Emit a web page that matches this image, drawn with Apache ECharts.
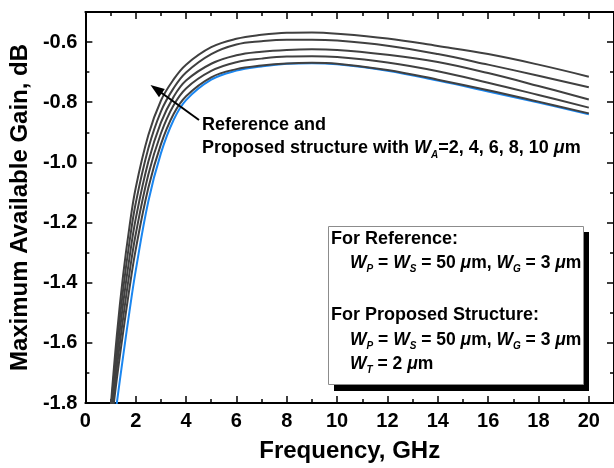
<!DOCTYPE html>
<html>
<head>
<meta charset="utf-8">
<script src="https://cdn.jsdelivr.net/npm/echarts@6/dist/echarts.min.js"></script>
<style>
  html, body { margin: 0; padding: 0; background: #fff; }
  #chart { width: 614px; height: 468px; }
</style>
</head>
<body>
<div id="chart"></div>
<script>
// frequency points (GHz)
const freq = [1.0, 1.25, 1.5, 1.75, 2, 2.5, 3, 3.5, 4, 5, 6, 7, 8, 9, 10, 12, 14, 16, 18, 20];
// reference structure (blue)
const refGain = [-1.96, -1.80, -1.645, -1.497, -1.36, -1.13, -0.97, -0.86, -0.793, -0.725, -0.695, -0.681, -0.672, -0.670, -0.674, -0.695, -0.728, -0.764, -0.801, -0.840];
// proposed structure, W_A = 2 .. 10 um
const propWa2 = [-1.89, -1.72, -1.565, -1.42, -1.29, -1.085, -0.94, -0.84, -0.78, -0.717, -0.690, -0.678, -0.671, -0.669, -0.672, -0.693, -0.725, -0.760, -0.798, -0.837];
const propWa4 = [-1.873, -1.684, -1.518, -1.369, -1.239, -1.041, -0.904, -0.811, -0.754, -0.696, -0.667, -0.655, -0.648, -0.647, -0.650, -0.668, -0.697, -0.735, -0.776, -0.818];
const propWa6 = [-1.855, -1.648, -1.47, -1.318, -1.188, -0.998, -0.868, -0.783, -0.728, -0.672, -0.644, -0.632, -0.626, -0.624, -0.626, -0.642, -0.666, -0.703, -0.746, -0.791];
const propWa8 = [-1.838, -1.611, -1.423, -1.266, -1.136, -0.954, -0.831, -0.754, -0.701, -0.640, -0.608, -0.597, -0.592, -0.592, -0.595, -0.612, -0.640, -0.675, -0.712, -0.750];
const propWa10 = [-1.82, -1.575, -1.375, -1.215, -1.085, -0.91, -0.795, -0.725, -0.675, -0.617, -0.589, -0.576, -0.569, -0.568, -0.572, -0.588, -0.613, -0.640, -0.675, -0.715];

const FONT = '"Liberation Sans", Arial, sans-serif';
const myChart = echarts.init(document.getElementById('chart'));

const toPairs = (arr) => freq.map((f, i) => [f, arr[i]]);

function lineSeries(name, arr, color) {
  return {
    name: name,
    type: 'line',
    data: toPairs(arr),
    smooth: 0.4,
    showSymbol: false,
    symbol: 'none',
    clip: true,
    lineStyle: { color: color, width: 2 },
    xAxisIndex: 0,
    yAxisIndex: 0
  };
}

function xAx(pos, interval, major) {
  return {
    type: 'value', position: pos, min: 0, max: 21, interval: interval,
    axisLine: { show: major, onZero: false, lineStyle: { color: '#000', width: 2 } },
    axisTick: { show: true, inside: true, length: major ? 7 : 4, lineStyle: { color: '#000', width: 1.5 } },
    axisLabel: { show: false },
    splitLine: { show: false }
  };
}
function yAx(pos, interval, major) {
  return {
    type: 'value', position: pos, min: -1.8, max: -0.5, interval: interval,
    axisLine: { show: major, onZero: false, lineStyle: { color: '#000', width: 2 } },
    axisTick: { show: true, inside: true, length: major ? 7 : 4, lineStyle: { color: '#000', width: 1.5 } },
    axisLabel: { show: false },
    splitLine: { show: false }
  };
}

const xMain = xAx('bottom', 2, true);
xMain.axisLabel = {
  show: true, showMaxLabel: false, margin: 8,
  color: '#000', fontSize: 20, fontWeight: 'bold', fontFamily: FONT
};
xMain.name = 'Frequency, GHz';
xMain.nameLocation = 'middle';
xMain.nameGap = 36;
xMain.nameTextStyle = { color: '#000', fontSize: 24, fontWeight: 'bold', fontFamily: FONT };

const yMain = yAx('left', 0.2, true);
yMain.axisLabel = {
  show: true, showMaxLabel: false, margin: 8,
  color: '#000', fontSize: 20, fontWeight: 'bold', fontFamily: FONT,
  formatter: (v) => v.toFixed(1)
};
yMain.name = 'Maximum Available Gain, dB';
yMain.nameLocation = 'middle';
yMain.nameGap = 49;
yMain.nameRotate = 90;
yMain.nameTextStyle = { color: '#000', fontSize: 24, fontWeight: 'bold', fontFamily: FONT };

const tok = (extra) => Object.assign({ fontFamily: FONT, fontWeight: 'bold', fontSize: 18, fontStyle: 'normal', fill: '#000' }, extra);
function richFor(size) {
  return {
    w: tok({ fontStyle: 'italic', fontSize: size }),
    s: tok({ fontStyle: 'italic', fontSize: 10, verticalAlign: 'bottom', lineHeight: 10 }),
    mu: tok({ fontStyle: 'italic', fontSize: size })
  };
}

function boxText(x, y, text, size) {
  return {
    type: 'text', x: x, y: y, z: 20,
    style: {
      text: text, rich: richFor(size), verticalAlign: 'middle', align: 'left',
      fontFamily: FONT, fontWeight: 'bold', fontSize: size, fill: '#000', lineHeight: 22
    }
  };
}

const wLine = '{w|W}{s|P} = {w|W}{s|S} = 50 {mu|μ}m, {w|W}{s|G} = 3 {mu|μ}m';

let option = {
  animation: false,
  backgroundColor: '#fff',
  tooltip: { show: false },
  grid: { left: 83.5, top: 12, right: -3, bottom: 61.5, containLabel: false },
  xAxis: [xMain, xAx('bottom', 1, false), xAx('top', 2, true), xAx('top', 1, false)],
  yAxis: [yMain, yAx('left', 0.1, false), yAx('right', 0.2, true), yAx('right', 0.1, false)],
  series: [
    lineSeries('Reference', refGain, '#1a86f0'),
    lineSeries('W_A=2', propWa2, '#404040'),
    lineSeries('W_A=4', propWa4, '#404040'),
    lineSeries('W_A=6', propWa6, '#404040'),
    lineSeries('W_A=8', propWa8, '#404040'),
    lineSeries('W_A=10', propWa10, '#404040')
  ],
  graphic: [
    // annotation with arrow
    {
      type: 'text', x: 202, y: 114, z: 20,
      style: {
        text: 'Reference and\nProposed structure with {w|W}{s|A}=2, 4, 6, 8, 10 {mu|μ}m',
        rich: richFor(18),
        fontFamily: FONT, fontWeight: 'bold', fontSize: 18, fill: '#000', lineHeight: 23
      }
    },
    {
      type: 'line', z: 20,
      shape: { x1: 199, y1: 120, x2: 161, y2: 92.5 },
      style: { stroke: '#000', lineWidth: 2 }
    },
    {
      type: 'polygon', z: 20,
      shape: { points: [[150.5, 85], [164.8, 89.1], [159.0, 97.3]] },
      style: { fill: '#000' }
    },
    // parameter box with shadow
    {
      type: 'rect', z: 10,
      shape: { x: 334, y: 232, width: 255, height: 159 },
      style: { fill: '#000' }
    },
    {
      type: 'rect', z: 11,
      shape: { x: 328.5, y: 226.5, width: 255, height: 158 },
      style: { fill: '#fff', stroke: '#8c8c8c', lineWidth: 1 }
    },
    boxText(331, 239, 'For Reference:', 18),
    boxText(350, 263, wLine, 17.5),
    boxText(331, 315, 'For Proposed Structure:', 18),
    boxText(350, 340, wLine, 17.5),
    boxText(350, 364, '{w|W}{s|T} = 2 {mu|μ}m', 17.5)
  ]
};

myChart.setOption(option);
window.addEventListener('resize', () => {
  myChart.resize();
});
</script>
</body>
</html>
